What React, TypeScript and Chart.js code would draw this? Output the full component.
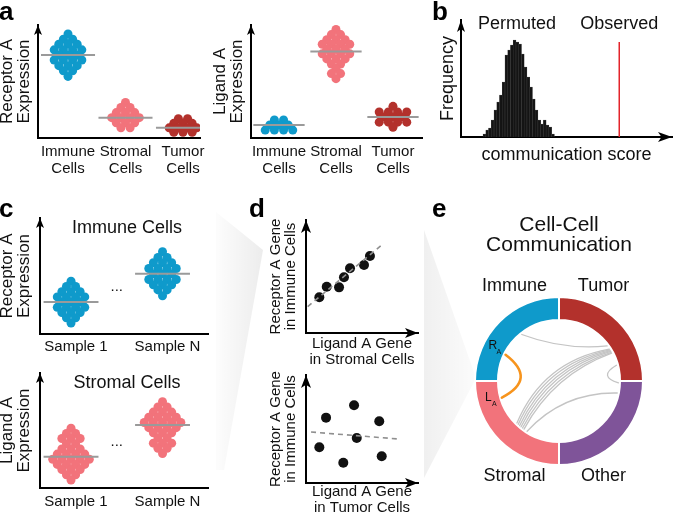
import React, { useEffect, useRef } from 'react';
import { Chart, registerables } from 'chart.js';

Chart.register(...registerables);

const FONT = "'Liberation Sans', Arial, Helvetica, sans-serif";
Chart.defaults.font.family = FONT;
Chart.defaults.color = '#111';

// ---------------- colours ----------------
const BLUE = '#0f9acb';
const PINK = '#f2737b';
const DARKRED = '#b3312c';
const PURPLE = '#7f5499';
const ORANGE = '#f7941d';

// ---------------- panel a ----------------
const aCategoryPositions = [1, 2, 3];
const aCategoryLabels = [['Immune', 'Cells'], ['Stromal', 'Cells'], ['Tumor', 'Cells']];
const aReceptorImmune = [9.2, 8.75, 8.75, 8.3, 8.3, 8.3, 7.8, 7.8, 7.8, 7.8, 7.35, 7.35, 7.35, 6.9, 6.9, 6.9, 6.9, 6.4, 6.4, 6.4, 5.95, 5.95, 5.45];
const aReceptorStromal = [3.15, 2.7, 2.7, 2.25, 2.25, 2.25, 1.8, 1.8, 1.8, 1.8, 1.35, 1.35, 1.35, 0.9, 0.9];
const aReceptorTumor = [1.7, 1.7, 1.3, 1.3, 1.3, 0.9, 0.9, 0.9, 0.9, 0.5, 0.5, 0.5];
const aLigandImmune = [1.6, 1.6, 1.15, 1.15, 1.15, 0.7, 0.7, 0.7, 0.7];
const aLigandStromal = [9.6, 9.15, 9.15, 8.7, 8.7, 8.7, 8.3, 8.3, 8.3, 8.3, 7.85, 7.85, 7.85, 7.45, 7.45, 7.45, 7.45, 7.0, 7.0, 7.0, 6.55, 6.55, 6.15, 5.7, 5.7, 5.25];
const aLigandTumor = [2.8, 2.3, 2.3, 2.3, 2.3, 1.85, 1.85, 1.85, 1.4, 1.4, 1.4, 1.4, 0.95];

// ---------------- panel b ----------------
const scoreBins = [11.1, 12.4, 13.7, 15.0, 16.3, 17.6, 18.9, 20.2, 21.5, 22.8, 24.1, 25.4, 26.7, 28.0, 29.3, 30.6, 31.9, 33.2, 34.5, 35.8, 37.1, 38.4, 39.7, 41.0, 42.3, 43.6];
const permutedCounts = [3, 7, 9, 17, 27, 35, 42, 55, 82, 87, 92, 97, 95, 93, 83, 70, 60, 50, 38, 27, 17, 13, 17, 12, 10, 3];
const observedScore = 75;
const observedLineHeight = 95;

// ---------------- panel c ----------------
const cSamplePositions = [1, 2];
const cSampleLabels = ['Sample 1', 'Sample N'];
const cImmuneSample1 = [4.55, 4.1, 4.1, 3.65, 3.65, 3.65, 3.2, 3.2, 3.2, 3.2, 2.75, 2.75, 2.75, 2.3, 2.3, 2.3, 2.3, 1.85, 1.85, 1.85, 1.4, 1.4, 0.95];
const cImmuneSampleN = [7.1, 6.6, 6.6, 6.15, 6.15, 6.15, 5.65, 5.65, 5.65, 5.65, 5.2, 5.2, 5.2, 4.7, 4.7, 4.7, 4.7, 4.25, 4.25, 4.25, 3.8, 3.8, 3.3];
const cStromalSample1 = [5.2, 4.75, 4.75, 4.3, 4.3, 4.3, 3.85, 3.85, 3.4, 3.4, 3.4, 2.95, 2.95, 2.95, 2.95, 2.5, 2.5, 2.5, 2.5, 2.5, 2.05, 2.05, 2.05, 2.05, 1.6, 1.6, 1.6, 1.15, 1.15, 0.7];
const cStromalSampleN = [7.5, 7.05, 7.05, 6.6, 6.6, 6.6, 6.15, 6.15, 6.15, 6.15, 5.7, 5.7, 5.7, 5.7, 5.7, 5.25, 5.25, 5.25, 5.25, 4.8, 4.8, 4.8, 4.35, 4.35, 3.9, 3.9, 3.9, 3.45, 3.45, 3.0];

// ---------------- panel d ----------------
const dStromalLigand = [11.9, 18.5, 29.5, 33.9, 39.3, 51.8, 57.1];
const dImmuneReceptorVsStromal = [31.6, 41.0, 40.4, 49.3, 57.3, 60.2, 68.1];
const dFitStromalX = [1.5, 67.6];
const dFitStromalY = [23.3, 77.9];
const dTumorLigand = [17.9, 42.9, 65.4, 45.3, 11.9, 33.3, 67.6];
const dImmuneReceptorVsTumor = [60.5, 72.0, 57.1, 41.7, 33.1, 18.8, 24.7];
const dFitTumorX = [4.5, 83.0];
const dFitTumorY = [47.2, 40.7];

// ---------------- panel e ----------------
const ringGroups = ['Tumor', 'Other', 'Stromal', 'Immune'];
const ringShares = [25, 25, 25, 25];
const ringColors = [DARKRED, PURPLE, PINK, BLUE];
const chordSource = ['Immune', 'Stromal', 'Stromal', 'Stromal', 'Stromal', 'Stromal', 'Stromal', 'Stromal', 'Tumor'];
const chordSourcePos = [0.57, 0.5, 0.48, 0.46, 0.44, 0.42, 0.4, 0.36, 0.83];
const chordTarget = ['Tumor', 'Tumor', 'Tumor', 'Tumor', 'Tumor', 'Tumor', 'Tumor', 'Other', 'Other'];
const chordTargetPos = [0.6, 0.64, 0.65, 0.66, 0.67, 0.68, 0.69, 0.13, 0.02];
const chordBow = [5, 16, 15, 14, 13, 12, 11, 11, 10];
const ligandReceptorLink = { receptorGroup: 'Immune', receptorPos: 0.29, ligandGroup: 'Stromal', ligandPos: 0.82, bow: 17 };

// ---------------- helpers ----------------
type Box = { left: number; top: number; width: number; height: number };
type Pad = { top: number; right: number; bottom: number; left: number };

function swarmPoints(values: number[], center: number, spacing: number) {
  const counts = new Map<number, number>();
  values.forEach((v) => counts.set(v, (counts.get(v) || 0) + 1));
  const seen = new Map<number, number>();
  return values.map((v) => {
    const n = counts.get(v) as number;
    const i = seen.get(v) || 0;
    seen.set(v, i + 1);
    return { x: center + (i - (n - 1) / 2) * spacing, y: v };
  });
}

function median(values: number[]) {
  const s = [...values].sort((a, b) => a - b);
  const m = Math.floor(s.length / 2);
  return s.length % 2 ? s[m] : (s[m - 1] + s[m]) / 2;
}

function drawArrow(ctx: CanvasRenderingContext2D, x: number, y: number, dir: 'up' | 'right', len: number, wid: number) {
  ctx.beginPath();
  if (dir === 'up') {
    ctx.moveTo(x, y);
    ctx.lineTo(x - wid / 2, y + len);
    ctx.lineTo(x, y + len * 0.75);
    ctx.lineTo(x + wid / 2, y + len);
  } else {
    ctx.moveTo(x, y);
    ctx.lineTo(x - len, y - wid / 2);
    ctx.lineTo(x - len * 0.75, y);
    ctx.lineTo(x - len, y + wid / 2);
  }
  ctx.closePath();
  ctx.fillStyle = '#000';
  ctx.fill();
}

const baseOptions = {
  responsive: false,
  animation: false,
  events: [] as string[],
  devicePixelRatio: 1,
};

const axisBorder = { display: true, color: '#000', width: 2 };

type Group = { x: number; values: number[]; color: string };
type SwarmSpec = {
  pad: Pad;
  yAxisWidth: number;
  xAxisHeight: number;
  xMin: number;
  xMax: number;
  yMax: number;
  groups: Group[];
  ticks: number[];
  tickLabels: (string | string[])[];
  spacing: number;
  halfLine: number;
  radius: number;
  yTitle: string[];
  yTitlePad: number;
  tickPad: number;
  labelOffset: number;
  title?: string;
  ellipsis?: { x: number; y: number };
};

function swarmConfig(s: SwarmSpec): any {
  const datasets: any[] = [];
  s.groups.forEach((g) => {
    const m = median(g.values);
    datasets.push({
      data: [{ x: g.x - s.halfLine, y: m }, { x: g.x + s.halfLine, y: m }],
      showLine: true,
      borderColor: '#9a9a9a',
      borderWidth: 2,
      pointRadius: 0,
      order: 0,
    });
    datasets.push({
      data: swarmPoints(g.values, g.x, s.spacing),
      pointBackgroundColor: g.color,
      pointBorderWidth: 0,
      pointRadius: s.radius,
      backgroundColor: g.color,
      borderColor: g.color,
      order: 1,
    });
  });
  return {
    type: 'scatter',
    data: { datasets },
    options: {
      ...baseOptions,
      layout: { padding: s.pad },
      plugins: { legend: { display: false }, tooltip: { enabled: false } },
      scales: {
        x: {
          type: 'linear',
          min: s.xMin,
          max: s.xMax,
          offset: false,
          grid: { display: false, drawTicks: false },
          border: axisBorder,
          afterBuildTicks: (scale: any) => {
            scale.ticks = s.ticks.map((v) => ({ value: v }));
          },
          afterFit: (scale: any) => {
            scale.height = s.xAxisHeight;
          },
          ticks: {
            display: true,
            autoSkip: false,
            maxRotation: 0,
            minRotation: 0,
            padding: s.tickPad,
            labelOffset: s.labelOffset,
            color: '#111',
            font: { size: 15, lineHeight: 1.1 },
            callback: (v: number) => {
              const i = s.ticks.indexOf(v);
              return i >= 0 ? s.tickLabels[i] : '';
            },
          },
        },
        y: {
          type: 'linear',
          min: 0,
          max: s.yMax,
          grid: { display: false, drawTicks: false },
          border: axisBorder,
          ticks: { display: false },
          afterFit: (scale: any) => {
            scale.width = s.yAxisWidth;
          },
          title: {
            display: true,
            text: s.yTitle,
            color: '#111',
            font: { size: 17, lineHeight: 1 },
            padding: { top: s.yTitlePad, bottom: 0 },
          },
        },
      },
    },
    plugins: [
      {
        id: 'swarmDeco',
        afterDraw(chart: any) {
          const { ctx, chartArea: ca } = chart;
          ctx.save();
          drawArrow(ctx, ca.left, ca.top, 'up', 10, 8);
          ctx.fillStyle = '#111';
          ctx.textAlign = 'center';
          ctx.textBaseline = 'middle';
          if (s.title) {
            ctx.font = `18px ${FONT}`;
            ctx.fillText(s.title, (ca.left + ca.right) / 2 + 3, ca.top + 10);
          }
          if (s.ellipsis) {
            ctx.font = `15px ${FONT}`;
            ctx.fillText('...', chart.scales.x.getPixelForValue(s.ellipsis.x), chart.scales.y.getPixelForValue(s.ellipsis.y));
          }
          ctx.restore();
        },
      },
    ],
  };
}

type CorrSpec = {
  pad: Pad;
  yAxisWidth: number;
  xAxisHeight: number;
  xs: number[];
  ys: number[];
  fitX: number[];
  fitY: number[];
  xTitle: string[];
  yTitle: string[];
  xTitlePadBottom: number;
};

function corrConfig(s: CorrSpec): any {
  return {
    type: 'scatter',
    data: {
      datasets: [
        {
          data: s.fitX.map((x, i) => ({ x, y: s.fitY[i] })),
          showLine: true,
          borderColor: '#8f8f8f',
          borderWidth: 1.6,
          borderDash: [5, 4],
          pointRadius: 0,
          order: 0,
        },
        {
          data: s.xs.map((x, i) => ({ x, y: s.ys[i] })),
          pointBackgroundColor: '#111',
          pointBorderWidth: 0,
          pointRadius: 5,
          order: 1,
        },
      ],
    },
    options: {
      ...baseOptions,
      layout: { padding: s.pad },
      plugins: { legend: { display: false }, tooltip: { enabled: false } },
      scales: {
        x: {
          type: 'linear',
          min: 0,
          max: 100,
          grid: { display: false, drawTicks: false },
          border: axisBorder,
          ticks: { display: false },
          afterFit: (scale: any) => {
            scale.height = s.xAxisHeight;
          },
          title: {
            display: true,
            text: s.xTitle,
            color: '#111',
            font: { size: 15, lineHeight: 16 / 15 },
            padding: { top: 0, bottom: s.xTitlePadBottom },
          },
        },
        y: {
          type: 'linear',
          min: 0,
          max: 100,
          grid: { display: false, drawTicks: false },
          border: axisBorder,
          ticks: { display: false },
          afterFit: (scale: any) => {
            scale.width = s.yAxisWidth;
          },
          title: {
            display: true,
            text: s.yTitle,
            color: '#111',
            font: { size: 15, lineHeight: 1 },
            padding: { top: 6.5, bottom: 0 },
          },
        },
      },
    },
    plugins: [
      {
        id: 'corrDeco',
        afterDraw(chart: any) {
          const { ctx, chartArea: ca } = chart;
          ctx.save();
          drawArrow(ctx, ca.left, ca.top, 'up', 13, 10);
          drawArrow(ctx, ca.right, ca.bottom, 'right', 13, 10);
          ctx.restore();
        },
      },
    ],
  };
}

function histConfig(): any {
  const total = permutedCounts.reduce((a, b) => a + b, 0);
  const meanScore = scoreBins.reduce((a, x, i) => a + x * permutedCounts[i], 0) / total;
  return {
    type: 'bar',
    data: {
      datasets: [
        {
          type: 'line',
          data: [
            { x: observedScore, y: 0 },
            { x: observedScore, y: observedLineHeight },
          ],
          borderColor: '#e3242b',
          borderWidth: 1.5,
          pointRadius: 0,
          order: 0,
        },
        {
          type: 'bar',
          data: scoreBins.map((x, i) => ({ x, y: permutedCounts[i] })),
          backgroundColor: '#141414',
          borderColor: '#3a3a3a',
          borderWidth: 0.5,
          barPercentage: 1,
          categoryPercentage: 1,
          order: 1,
        },
      ],
    },
    options: {
      ...baseOptions,
      layout: { padding: { top: 20, right: 1, bottom: 0, left: 0 } },
      plugins: { legend: { display: false }, tooltip: { enabled: false } },
      scales: {
        x: {
          type: 'linear',
          min: 0,
          max: 100,
          offset: false,
          grid: { display: false, drawTicks: false },
          border: axisBorder,
          ticks: { display: false },
          afterFit: (scale: any) => {
            scale.height = 38;
          },
          title: {
            display: true,
            text: 'communication score',
            color: '#111',
            font: { size: 18, lineHeight: 1.2 },
            padding: { top: 0, bottom: 9.2 },
          },
        },
        y: {
          type: 'linear',
          min: 0,
          max: 117,
          grid: { display: false, drawTicks: false },
          border: axisBorder,
          ticks: { display: false },
          afterFit: (scale: any) => {
            scale.width = 31;
          },
          title: {
            display: true,
            text: 'Frequency',
            color: '#111',
            font: { size: 18, lineHeight: 1.2 },
            padding: { top: 7.2, bottom: 0 },
          },
        },
      },
    },
    plugins: [
      {
        id: 'histDeco',
        afterDraw(chart: any) {
          const { ctx, chartArea: ca } = chart;
          ctx.save();
          drawArrow(ctx, ca.left, ca.top, 'up', 12, 8);
          drawArrow(ctx, ca.right, ca.bottom, 'right', 14, 10);
          ctx.fillStyle = '#111';
          ctx.font = `18px ${FONT}`;
          ctx.textAlign = 'center';
          ctx.textBaseline = 'middle';
          ctx.fillText('Permuted', chart.scales.x.getPixelForValue(meanScore), ca.top + 4);
          ctx.fillText('Observed', chart.scales.x.getPixelForValue(observedScore), ca.top + 4);
          ctx.restore();
        },
      },
    ],
  };
}

function chordConfig(): any {
  return {
    type: 'doughnut',
    data: {
      labels: ringGroups,
      datasets: [
        {
          data: ringShares,
          backgroundColor: ringColors,
          borderColor: '#ffffff',
          borderWidth: 2,
        },
      ],
    },
    options: {
      ...baseOptions,
      radius: 84,
      cutout: `${(61 / 84) * 100}%`,
      layout: { padding: { top: 0, right: 20, bottom: 19, left: 20 } },
      plugins: {
        legend: { display: false },
        tooltip: { enabled: false },
        title: {
          display: true,
          text: ['Cell-Cell', 'Communication'],
          color: '#111',
          font: { size: 21, lineHeight: 0.95, weight: 'normal' },
          padding: { top: 10, bottom: 10 },
        },
      },
    },
    plugins: [
      {
        id: 'chordDeco',
        afterDatasetsDraw(chart: any) {
          const ctx: CanvasRenderingContext2D = chart.ctx;
          const arcs = chart.getDatasetMeta(0).data as any[];
          const cx = arcs[0].x;
          const cy = arcs[0].y;
          const rIn = arcs[0].innerRadius;
          const rOut = arcs[0].outerRadius;
          const angleOf = (g: string, f: number) => {
            const a = arcs[ringGroups.indexOf(g)];
            return a.startAngle + (a.endAngle - a.startAngle) * f;
          };
          const pt = (a: number, r: number) => [cx + r * Math.cos(a), cy + r * Math.sin(a)];
          const chord = (a0: number, a1: number, bow: number, color: string, width: number) => {
            const [x0, y0] = pt(a0, rIn - 1.5);
            const [x1, y1] = pt(a1, rIn - 1.5);
            const mx = (x0 + x1) / 2;
            const my = (y0 + y1) / 2;
            const dx = x1 - x0;
            const dy = y1 - y0;
            const len = Math.hypot(dx, dy) || 1;
            let nx = -dy / len;
            let ny = dx / len;
            if (nx * (cx - mx) + ny * (cy - my) < 0) {
              nx = -nx;
              ny = -ny;
            }
            const qx = mx + nx * bow * 2;
            const qy = my + ny * bow * 2;
            ctx.beginPath();
            ctx.moveTo(x0, y0);
            ctx.quadraticCurveTo(qx, qy, x1, y1);
            ctx.strokeStyle = color;
            ctx.lineWidth = width;
            ctx.stroke();
          };
          ctx.save();
          ctx.lineCap = 'round';
          chordSource.forEach((g, i) => {
            chord(angleOf(g, chordSourcePos[i]), angleOf(chordTarget[i], chordTargetPos[i]), chordBow[i], '#c4c4c4', 1.3);
          });
          const aR = angleOf(ligandReceptorLink.receptorGroup, ligandReceptorLink.receptorPos);
          const aL = angleOf(ligandReceptorLink.ligandGroup, ligandReceptorLink.ligandPos);
          chord(aR, aL, ligandReceptorLink.bow, ORANGE, 2.6);

          // group labels
          ctx.fillStyle = '#111';
          ctx.textAlign = 'center';
          ctx.textBaseline = 'middle';
          ctx.font = `18px ${FONT}`;
          arcs.forEach((a, i) => {
            const mid = (a.startAngle + a.endAngle) / 2;
            const x = cx + Math.sign(Math.cos(mid)) * 0.53 * rOut;
            const y = cy + Math.sign(Math.sin(mid)) * (rOut + 11);
            ctx.fillText(ringGroups[i], x, y);
          });

          // receptor / ligand marks
          const rMid = (rIn + rOut) / 2;
          const mark = (a: number, letter: string) => {
            const [x, y] = pt(a, rMid);
            ctx.font = `12px ${FONT}`;
            ctx.fillText(letter, x - 1, y - 3);
            ctx.font = `7px ${FONT}`;
            ctx.fillText('A', x + 5, y + 3);
          };
          mark(aR, 'R');
          mark(aL, 'L');
          ctx.restore();
        },
      },
    ],
  };
}

function ChartCanvas({ box, make }: { box: Box; make: () => any }) {
  const ref = useRef<HTMLCanvasElement>(null);
  useEffect(() => {
    const chart = new Chart(ref.current as HTMLCanvasElement, make());
    return () => chart.destroy();
  }, []);
  return (
    <canvas
      ref={ref}
      width={box.width}
      height={box.height}
      style={{ position: 'absolute', left: box.left, top: box.top, width: box.width, height: box.height }}
    />
  );
}

const panelLetters: [string, number, number][] = [
  ['a', -1, -2],
  ['b', 432, -2],
  ['c', -1, 195],
  ['d', 249, 195],
  ['e', 432, 195],
];

export default function App() {
  return (
    <div
      style={{
        position: 'fixed',
        left: 0,
        top: 0,
        width: 673,
        height: 516,
        background: '#fff',
        overflow: 'hidden',
        fontFamily: FONT,
      }}
    >
      <svg width={673} height={516} style={{ position: 'absolute', left: 0, top: 0 }}>
        <defs>
          <linearGradient id="w1" x1="216" y1="0" x2="263" y2="0" gradientUnits="userSpaceOnUse">
            <stop offset="0" stopColor="#000" stopOpacity="0.01" />
            <stop offset="1" stopColor="#000" stopOpacity="0.075" />
          </linearGradient>
          <linearGradient id="w2" x1="424" y1="0" x2="476" y2="0" gradientUnits="userSpaceOnUse">
            <stop offset="0" stopColor="#000" stopOpacity="0.06" />
            <stop offset="1" stopColor="#000" stopOpacity="0.015" />
          </linearGradient>
        </defs>
        <polygon points="216,212 263,250 224,470 216,470" fill="url(#w1)" />
        <polygon points="424,230 476,378 424,478" fill="url(#w2)" />
      </svg>

      <ChartCanvas
        box={{ left: 0, top: 0, width: 215, height: 175 }}
        make={() =>
          swarmConfig({
            pad: { top: 25, right: 15, bottom: 0, left: 0 },
            yAxisWidth: 38,
            xAxisHeight: 37,
            xMin: 0.478,
            xMax: 3.296,
            yMax: 10,
            groups: [
              { x: aCategoryPositions[0], values: aReceptorImmune, color: BLUE },
              { x: aCategoryPositions[1], values: aReceptorStromal, color: PINK },
              { x: aCategoryPositions[2], values: aReceptorTumor, color: DARKRED },
            ],
            ticks: aCategoryPositions,
            tickLabels: aCategoryLabels,
            spacing: 0.16,
            halfLine: 0.47,
            radius: 4.5,
            yTitle: ['Receptor A', 'Expression'],
            yTitlePad: -1.5,
            tickPad: 6,
            labelOffset: 0,
          })
        }
      />
      <ChartCanvas
        box={{ left: 213, top: 0, width: 215, height: 175 }}
        make={() =>
          swarmConfig({
            pad: { top: 25, right: 6, bottom: 0, left: 0 },
            yAxisWidth: 38,
            xAxisHeight: 37,
            xMin: 0.509,
            xMax: 3.509,
            yMax: 10,
            groups: [
              { x: aCategoryPositions[0], values: aLigandImmune, color: BLUE },
              { x: aCategoryPositions[1], values: aLigandStromal, color: PINK },
              { x: aCategoryPositions[2], values: aLigandTumor, color: DARKRED },
            ],
            ticks: aCategoryPositions,
            tickLabels: aCategoryLabels,
            spacing: 0.161,
            halfLine: 0.45,
            radius: 4.5,
            yTitle: ['Ligand A', 'Expression'],
            yTitlePad: -1.5,
            tickPad: 6,
            labelOffset: 0,
          })
        }
      />
      <ChartCanvas box={{ left: 430, top: 0, width: 243, height: 175 }} make={histConfig} />
      <ChartCanvas
        box={{ left: 0, top: 200, width: 215, height: 160 }}
        make={() =>
          swarmConfig({
            pad: { top: 18, right: 7, bottom: 0, left: 0 },
            yAxisWidth: 40,
            xAxisHeight: 26,
            xMin: 0.661,
            xMax: 2.497,
            yMax: 10,
            groups: [
              { x: cSamplePositions[0], values: cImmuneSample1, color: BLUE },
              { x: cSamplePositions[1], values: cImmuneSampleN, color: BLUE },
            ],
            ticks: cSamplePositions,
            tickLabels: cSampleLabels,
            spacing: 0.1,
            halfLine: 0.3,
            radius: 4.5,
            yTitle: ['Receptor A', 'Expression'],
            yTitlePad: -1.5,
            tickPad: 5,
            labelOffset: 5,
            title: 'Immune Cells',
            ellipsis: { x: 1.5, y: 4.05 },
          })
        }
      />
      <ChartCanvas
        box={{ left: 0, top: 355, width: 215, height: 161 }}
        make={() =>
          swarmConfig({
            pad: { top: 18, right: 7, bottom: 0, left: 0 },
            yAxisWidth: 40,
            xAxisHeight: 28,
            xMin: 0.661,
            xMax: 2.497,
            yMax: 10,
            groups: [
              { x: cSamplePositions[0], values: cStromalSample1, color: PINK },
              { x: cSamplePositions[1], values: cStromalSampleN, color: PINK },
            ],
            ticks: cSamplePositions,
            tickLabels: cSampleLabels,
            spacing: 0.1,
            halfLine: 0.3,
            radius: 4.5,
            yTitle: ['Ligand A', 'Expression'],
            yTitlePad: -1.5,
            tickPad: 6,
            labelOffset: 5,
            title: 'Stromal Cells',
            ellipsis: { x: 1.5, y: 4.0 },
          })
        }
      />
      <ChartCanvas
        box={{ left: 262, top: 200, width: 170, height: 170 }}
        make={() =>
          corrConfig({
            pad: { top: 20, right: 14, bottom: 0, left: 0 },
            yAxisWidth: 44,
            xAxisHeight: 37,
            xs: dStromalLigand,
            ys: dImmuneReceptorVsStromal,
            fitX: dFitStromalX,
            fitY: dFitStromalY,
            xTitle: ['Ligand A Gene', 'in Stromal Cells'],
            yTitle: ['Receptor A Gene', 'in Immune Cells'],
            xTitlePadBottom: 2,
          })
        }
      />
      <ChartCanvas
        box={{ left: 262, top: 360, width: 170, height: 156 }}
        make={() =>
          corrConfig({
            pad: { top: 15, right: 14, bottom: 0, left: 0 },
            yAxisWidth: 44,
            xAxisHeight: 33,
            xs: dTumorLigand,
            ys: dImmuneReceptorVsTumor,
            fitX: dFitTumorX,
            fitY: dFitTumorY,
            xTitle: ['Ligand A Gene', 'in Tumor Cells'],
            yTitle: ['Receptor A Gene', 'in Immune Cells'],
            xTitlePadBottom: 0,
          })
        }
      />
      <ChartCanvas box={{ left: 445, top: 205, width: 228, height: 311 }} make={chordConfig} />

      {panelLetters.map(([t, x, y]) => (
        <div
          key={t}
          style={{
            position: 'absolute',
            left: x,
            top: y,
            fontSize: 26,
            lineHeight: '26px',
            fontWeight: 'bold',
            color: '#000',
          }}
        >
          {t}
        </div>
      ))}
    </div>
  );
}
